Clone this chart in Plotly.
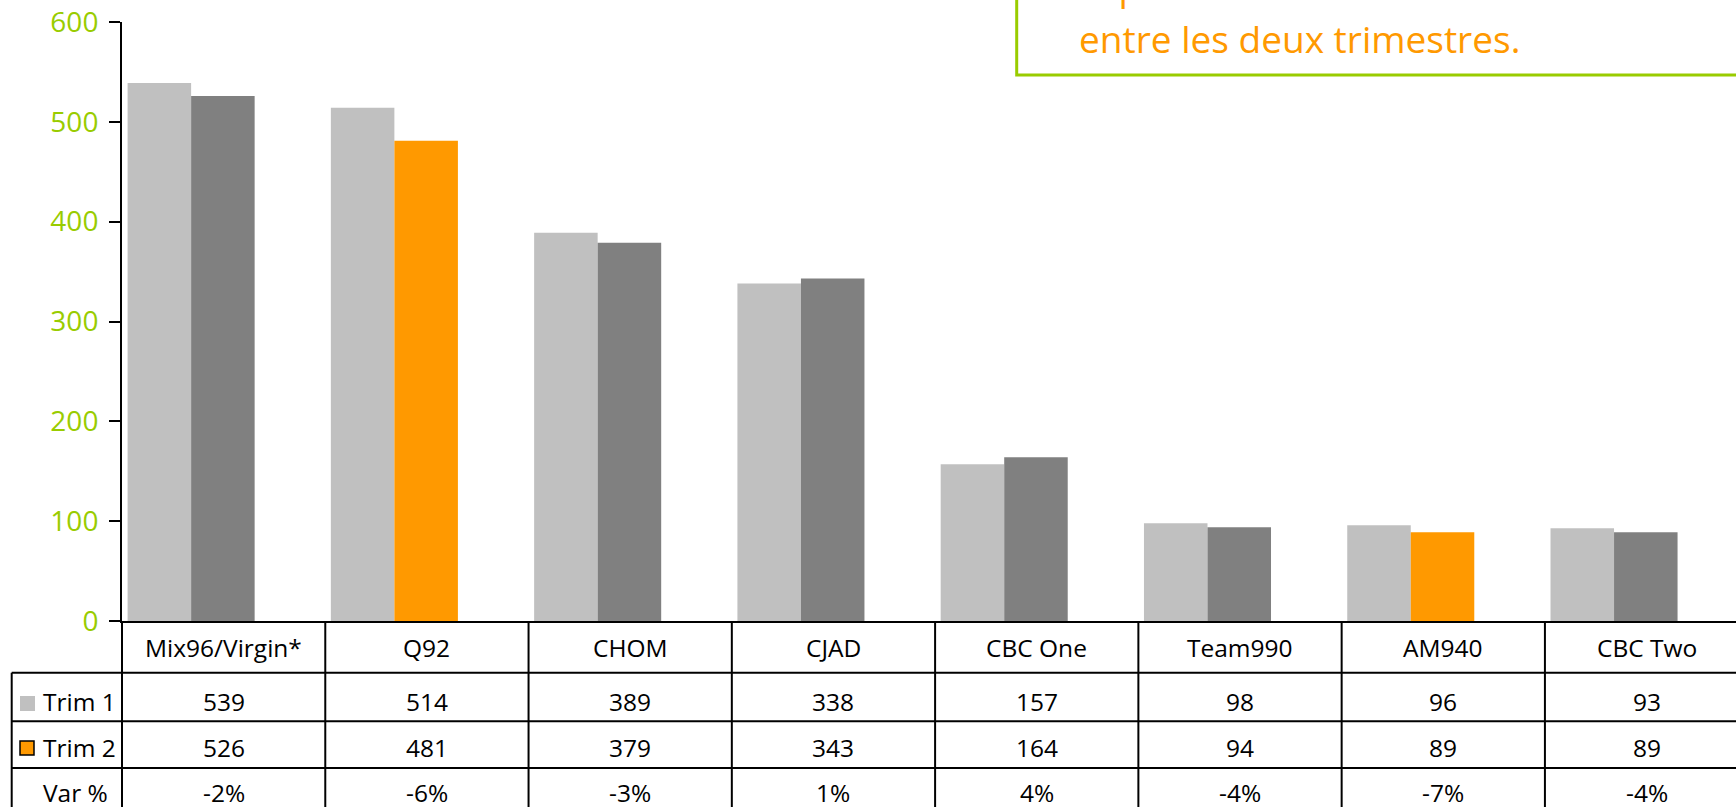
import plotly.graph_objects as go

# data
stations = ['Mix96/Virgin*', 'Q92', 'CHOM', 'CJAD', 'CBC One', 'Team990', 'AM940', 'CBC Two']
trim1 = [539, 514, 389, 338, 157, 98, 96, 93]
trim2 = [526, 481, 379, 343, 164, 94, 89, 89]
var_pct = ['-2%', '-6%', '-3%', '1%', '4%', '-4%', '-7%', '-4%']
highlight = ['Q92', 'AM940']
row_labels = ['Trim 1', 'Trim 2', 'Var %']
y_ticks = [0, 100, 200, 300, 400, 500, 600]
note_lines = ['la portée totale des stations est restée relativement stable',
              'entre les deux trimestres.']

LIGHT = '#C0C0C0'
DARK = '#808080'
ORANGE = '#FF9900'
GREEN = '#99CC00'
FONT = 'Open Sans'

W, H = 1736, 807
ML, MT, MB = 122, 22, 186
x_min, x_max = -0.5, 7.44
plot_w = W - ML
plot_h = H - MT - MB


def px_x(px):
    return (px - ML) / plot_w


def px_y(py):
    return (H - MB - py) / plot_h


def cat_x(v):
    return (v - x_min) / (x_max - x_min)


fig = go.Figure()

fig.add_trace(go.Bar(x=stations, y=trim1, name='Trim 1',
                     marker=dict(color=LIGHT, line=dict(width=0)),
                     width=0.3125, offset=-0.4725, hoverinfo='x+y'))
trim2_colors = [ORANGE if s in highlight else DARK for s in stations]
fig.add_trace(go.Bar(x=stations, y=trim2, name='Trim 2',
                     marker=dict(color=trim2_colors, line=dict(width=0)),
                     width=0.3125, offset=-0.16, hoverinfo='x+y'))

# table below the plot
row_edges = [621, 672.7, 721.3, 768]
row_mid = [647, 702, 747, 792]
line = dict(color='black', width=2)
shapes = []
for yb in row_edges[1:]:
    shapes.append(dict(type='line', xref='paper', yref='paper',
                       x0=px_x(11.7), x1=px_x(W + 10), y0=px_y(yb), y1=px_y(yb), line=line))
shapes.append(dict(type='line', xref='paper', yref='paper',
                   x0=px_x(11.7), x1=px_x(11.7), y0=px_y(row_edges[1]), y1=px_y(H + 10), line=line))
for k in range(len(stations) + 1):
    xb = cat_x(k - 0.5)
    shapes.append(dict(type='line', xref='paper', yref='paper',
                       x0=xb, x1=xb, y0=px_y(row_edges[0]), y1=px_y(H + 10), line=line))

# legend keys in the row headers
shapes.append(dict(type='rect', xref='paper', yref='paper',
                   x0=px_x(20), x1=px_x(35), y0=px_y(711), y1=px_y(696),
                   fillcolor=LIGHT, line=dict(width=0)))
shapes.append(dict(type='rect', xref='paper', yref='paper',
                   x0=px_x(20), x1=px_x(34), y0=px_y(755), y1=px_y(741),
                   fillcolor=ORANGE, line=dict(color='black', width=1.5)))

# comment box (cut by the top/right edge)
shapes.append(dict(type='rect', xref='paper', yref='paper',
                   x0=px_x(1016.7), x1=px_x(W + 30), y0=px_y(75), y1=px_y(-30),
                   fillcolor='rgba(0,0,0,0)', line=dict(color=GREEN, width=3)))

annotations = []
tfont = dict(family=FONT, size=24.5, color='black')
for i, s in enumerate(stations):
    cells = [s, str(trim1[i]), str(trim2[i]), var_pct[i]]
    for j, txt in enumerate(cells):
        annotations.append(dict(x=s, xref='x', y=px_y(row_mid[j]), yref='paper',
                                text=txt, showarrow=False, font=tfont,
                                xanchor='center', yanchor='middle'))
for j, lab in enumerate(row_labels):
    annotations.append(dict(x=px_x(41), xref='paper', y=px_y(row_mid[j + 1]), yref='paper',
                            text=lab, showarrow=False, font=tfont,
                            xanchor='left', yanchor='middle'))

# comment text, first line mostly above the top edge
nfont = dict(family=FONT, size=37, color=ORANGE)
for txt, bottom_px in zip(note_lines, [13, 66]):
    annotations.append(dict(x=px_x(1077), xref='paper', y=px_y(bottom_px), yref='paper',
                            text=txt, showarrow=False, font=nfont,
                            xanchor='left', yanchor='bottom', align='left'))

fig.update_layout(
    width=W, height=H,
    margin=dict(l=ML, r=0, t=MT, b=MB, pad=0),
    paper_bgcolor='white', plot_bgcolor='white',
    barmode='overlay', showlegend=False,
    shapes=shapes, annotations=annotations,
    xaxis=dict(type='category', range=[x_min, x_max], showticklabels=False,
               showgrid=False, zeroline=False, ticks='',
               showline=True, linecolor='black', linewidth=2),
    yaxis=dict(range=[0, 600], tickvals=y_ticks, ticks='outside', ticklen=11,
               tickwidth=2, tickcolor='black', showline=True, linecolor='black',
               linewidth=2, showgrid=False, zeroline=False,
               tickfont=dict(family=FONT, size=28, color=GREEN),
               ticklabelstandoff=5),
)

fig.write_html("out.html", config={'displayModeBar': False},
               post_script="document.body.style.margin='0';")
